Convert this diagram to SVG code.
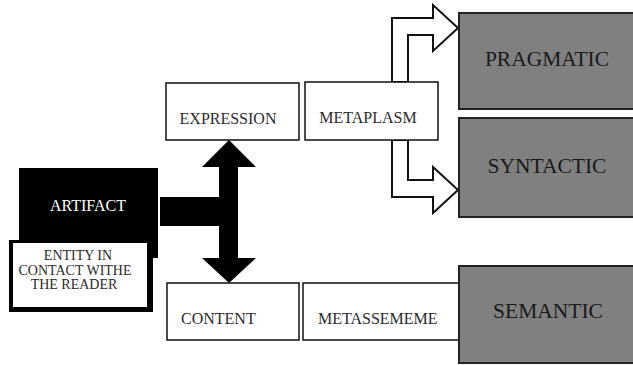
<svg xmlns="http://www.w3.org/2000/svg" width="633" height="365" viewBox="0 0 633 365">
<style>
.t{font-family:"Liberation Serif","Times New Roman",serif;fill:#2b2b2b}
.w{fill:#fff;stroke:#111;stroke-width:1.5}
.g{fill:#808080;stroke:#222;stroke-width:2}
.big{font-size:21.5px;text-anchor:middle;fill:#1a1a1a}
.mid{font-size:16px}
.sm{font-size:14px;text-anchor:middle}
.hollow{fill:#fff;stroke:#111;stroke-width:2;stroke-linejoin:miter}
</style>
<rect width="633" height="365" fill="#fff"/>
<g id="connectors">
<polygon points="160,197 219,197 219,167 202,167 229,140 256,167 238,167 238,258 256,258 229,283 202,258 219,258 219,226 160,226" fill="#000"/>
<polygon class="hollow" points="392,82 392,18 433,18 433,5 458,28 433,51 433,35 408,35 408,82"/>
<polygon class="hollow" points="408,140 408,180 433,180 433,167 458,190 433,213 433,197 392,197 392,140"/>
</g>
<g id="artifact">
<rect x="19" y="168" width="139" height="90" fill="#000"/>
<text class="t mid" x="88" y="211" text-anchor="middle" style="fill:#fff">ARTIFACT</text>
</g>
<g id="entity">
<rect x="9" y="240" width="144" height="72" fill="#000"/>
<rect x="13" y="243" width="134" height="64" fill="#fff"/>
<text class="t sm" x="78" y="260">ENTITY IN</text>
<text class="t sm" x="75" y="275">CONTACT WITHE</text>
<text class="t sm" x="74" y="289">THE READER</text>
</g>
<g id="expression">
<rect class="w" x="166" y="83" width="133" height="57"/>
<text class="t mid" x="228" y="124" text-anchor="middle">EXPRESSION</text>
</g>
<g id="metaplasm">
<rect class="w" x="305" y="82" width="133" height="58"/>
<text class="t mid" x="368" y="123" text-anchor="middle">METAPLASM</text>
</g>
<g id="content">
<rect class="w" x="167" y="283" width="132" height="57"/>
<text class="t mid" x="181" y="324">CONTENT</text>
</g>
<g id="metassememe">
<rect class="w" x="303" y="283" width="160" height="57"/>
<text class="t mid" x="318" y="324">METASSEMEME</text>
</g>
<g id="pragmatic">
<rect class="g" x="459" y="13" width="178" height="96"/>
<text class="t big" x="547" y="66">PRAGMATIC</text>
</g>
<g id="syntactic">
<rect class="g" x="459" y="118" width="178" height="99"/>
<text class="t big" x="547" y="173">SYNTACTIC</text>
</g>
<g id="semantic">
<rect class="g" x="459" y="266" width="178" height="97"/>
<text class="t big" x="548" y="318">SEMANTIC</text>
</g>
</svg>
